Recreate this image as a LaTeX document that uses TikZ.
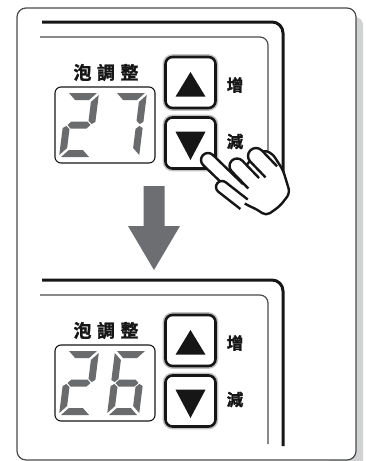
\documentclass[tikz,border=0pt]{standalone}
\usepackage{fontspec}
\newfontfamily\cjk[BoldFont={Noto Sans CJK TC Bold}, BoldFeatures={FakeBold=1.6}]{Noto Sans CJK TC}
\usetikzlibrary{calc}
\definecolor{ink}{HTML}{161616}
\definecolor{framegray}{HTML}{4A4A4A}
\definecolor{shadowgray}{HTML}{D1D2D4}
\definecolor{lcdgray}{HTML}{6A6B6D}
\definecolor{arrowgray}{HTML}{6D6E71}
\definecolor{halogray}{HTML}{C2C2C2}
\tikzset{
  casing/.style={draw=framegray, line width=1.2pt, rounded corners=9pt, fill=white},
  bezel/.style={draw=ink, line width=3pt, rounded corners=11pt},
  trim/.style={draw=framegray, line width=1.2pt, rounded corners=8pt},
  lcdbox/.style={draw=ink, line width=1.1pt, rounded corners=6pt, inner sep=0pt,
    minimum width=100pt, minimum height=76pt},
  btn/.style={draw=ink, line width=2.6pt, rounded corners=7pt, fill=white, inner sep=0pt,
    minimum width=50pt, minimum height=51pt, preaction={draw=halogray, line width=5.6pt}},
  title/.style={font=\cjk\bfseries\fontsize{18}{18}\selectfont, text=ink, inner sep=0pt},
  btntext/.style={font=\cjk\bfseries\fontsize{16.5}{16.5}\selectfont, text=ink, inner sep=0pt},
  segment/.style={fill=lcdgray},
  handline/.style={draw=ink, line width=2.4pt, fill=white, line join=round}
}
% seven-segment pieces, local box 32 x 64
\newcommand\lcdsega{\fill[segment] (2,0) -- (30,0) -- (23,7) -- (9,7) -- cycle;}
\newcommand\lcdsegb{\fill[segment] (32,2) -- (32,29) -- (28.5,31) -- (25,28) -- (25,9) -- cycle;}
\newcommand\lcdsegc{\fill[segment] (32,35) -- (32,62) -- (25,55) -- (25,36) -- (28.5,33) -- cycle;}
\newcommand\lcdsegd{\fill[segment] (9,57) -- (23,57) -- (30,64) -- (2,64) -- cycle;}
\newcommand\lcdsege{\fill[segment] (0,35) -- (3.5,33) -- (7,36) -- (7,55) -- (0,62) -- cycle;}
\newcommand\lcdsegf{\fill[segment] (0,2) -- (7,9) -- (7,28) -- (3.5,31) -- (0,29) -- cycle;}
\newcommand\lcdsegg{\fill[segment] (4.5,32) -- (8,28.5) -- (24,28.5) -- (27.5,32) -- (24,35.5) -- (8,35.5) -- cycle;}
\newcommand\lcddigit[2]{%
  \begin{scope}[shift={#1}, xslant=0.125]
    \foreach \s in #2 {\csname lcdseg\s\endcsname}
  \end{scope}}
% finger: tip centre, angle, length, radius
\newcommand\handfinger[4]{%
  \begin{scope}[shift={#1}, rotate=#2]
    \filldraw[handline, rounded corners=#4pt] (#3,-#4) -- (-#4,-#4) -- (-#4,#4) -- (#3,#4);
  \end{scope}}

\begin{document}
\begin{tikzpicture}[x=1pt, y=-1pt]
  \useasboundingbox (0,0) rectangle (365,461);

  % case with drop shadow
  \fill[shadowgray, rounded corners=8pt] (330,17) rectangle (363,475);
  \draw[casing] (17,8) rectangle (356,460);

  % the two panel states
  \foreach \dy/\segs/\nm in {0/{a,b,c}/top, 258/{a,f,g,e,c,d}/bot}{
    \begin{scope}[shift={(0,\dy)}]
      \draw[bezel] (42,22) -- (283,22) -- (283,188);
      \draw[trim] (40,37) -- (268,37) -- (268,186);

      \node[title] (title-\nm) at (106,72.5) {泡\hspace{5.5pt}調\hspace{5.5pt}整};
      \node[lcdbox] (lcd-\nm) at (105,125) {};
      \lcddigit{(67,93)}{{a,b,g,e,d}}
      \lcddigit{(115,93)}{\segs}

      \node[btn] (up-\nm) at (190.5,82.5) {};
      \node[btn] (down-\nm) at (190.5,143) {};
      \fill[ink] ($(up-\nm)+(0,-10.5)$) -- ($(up-\nm)+(15,14.2)$) -- ($(up-\nm)+(-15,14.2)$) -- cycle;
      \fill[ink] ($(down-\nm)+(-15,-11.3)$) -- ($(down-\nm)+(15,-11.3)$) -- ($(down-\nm)+(0,17)$) -- cycle;

      \node[btntext] (inc-\nm) at (235,85) {增};
      \node[btntext] (dec-\nm) at (235,141.5) {減};
    \end{scope}
  }

  % big arrow between the two states
  \fill[arrowgray] (143.5,186) -- (164.5,186) -- (164.5,226) -- (180,226) -- (154,270)
    -- (128,226) -- (143.5,226) -- cycle;

  % hand pressing the down key
  \filldraw[handline, rounded corners=5pt] (240,176) -- (250,160) -- (262,150) -- (272,153)
    -- (283,170) -- (290,193) -- (280,206) -- (266,216) -- (258,210) -- (245,204) -- (235,196) -- cycle;
  \handfinger{(208,160)}{-44}{42}{7}
  \handfinger{(222,187)}{-38}{28}{6}
  \handfinger{(256,156)}{-46}{22}{8}
  \handfinger{(237,166)}{-46}{24}{7.5}
\end{tikzpicture}
\end{document}
